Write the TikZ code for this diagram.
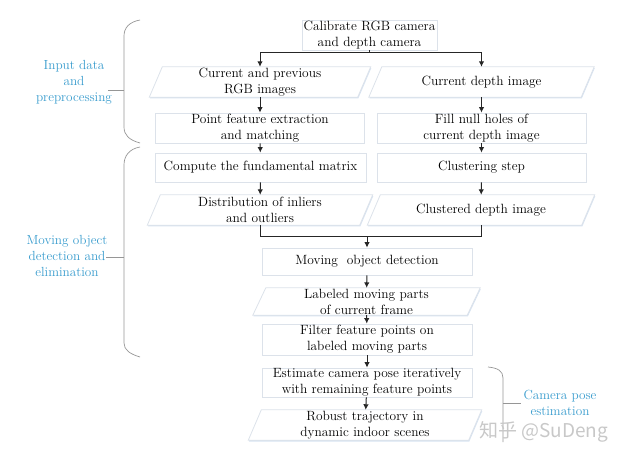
\documentclass[tikz,border=0pt]{standalone}
\usepackage{fontspec}
\newfontfamily\cjkfont{Noto Sans CJK SC}
\usetikzlibrary{arrows.meta,shadows}
\pgfdeclarelayer{background}
\pgfsetlayers{background,main}
\definecolor{boxline}{RGB}{220,226,234}
\definecolor{shadowc}{RGB}{205,220,238}
\definecolor{labelblue}{RGB}{55,155,205}
\definecolor{brace}{RGB}{150,150,150}
\definecolor{wm}{RGB}{200,200,200}
\begin{document}
\begin{tikzpicture}[x=1pt,y=-1pt,
  txt/.style={font=\fontsize{13.4}{16}\selectfont, align=center, inner sep=0pt},
  procbox/.style={txt, draw=boxline, fill=white, line width=0.8pt,
    drop shadow={shadow xshift=0.6pt, shadow yshift=-1.3pt, fill=shadowc, opacity=0.8}},
  parashape/.style={draw=boxline, fill=white, line width=0.8pt,
    drop shadow={shadow xshift=0.6pt, shadow yshift=-1.3pt, fill=shadowc, opacity=0.8}},
  conn/.style={line width=1pt, black!85},
  arr/.style={conn, -{Latex[length=5.5pt,width=5.5pt]}},
  bracket/.style={draw=brace, line width=0.7pt},
  grouplabel/.style={font=\fontsize{13.2}{16}\selectfont, text=labelblue, align=center, inner sep=0pt}
]
\useasboundingbox (0,0) rectangle (624,462);

% process boxes
\node[procbox, minimum width=135, minimum height=30] (cal) at (369.5,35) {Calibrate RGB camera\\and depth camera};
\node[procbox, minimum width=209, minimum height=30] (pfe) at (260,128) {Point feature extraction\\and matching};
\node[procbox, minimum width=209, minimum height=30] (fill) at (481.5,128) {Fill null holes of\\current depth image};
\node[procbox, minimum width=211, minimum height=29] (fund) at (260.5,167.5) {Compute the fundamental matrix};
\node[procbox, minimum width=209, minimum height=29] (clus) at (481.5,167.5) {Clustering step};
\node[procbox, minimum width=210, minimum height=27] (mod) at (367,261.5) {Moving\ \ object detection};
\node[procbox, minimum width=210, minimum height=31] (filt) at (367,339.5) {Filter feature points on\\labeled moving parts};
\node[procbox, minimum width=210, minimum height=29] (est) at (367,382.5) {Estimate camera pose iteratively\\with remaining feature points};

% parallelogram (data) nodes: text nodes, outlines drawn on background
\node[txt, minimum width=208, minimum height=30] (rgb) at (260,82) {Current and previous\\RGB images};
\node[txt, minimum width=212, minimum height=30] (dep) at (481.5,82) {Current depth image};
\node[txt, minimum width=212, minimum height=30] (dist) at (260,210) {Distribution of inliers\\and outliers};
\node[txt, minimum width=214, minimum height=30] (cdep) at (481,210) {Clustered depth image};
\node[txt, minimum width=214, minimum height=27] (lab) at (366.5,301.5) {Labeled moving parts\\of current frame};
\node[txt, minimum width=220, minimum height=30] (rob) at (365,425) {Robust trajectory in\\dynamic indoor scenes};

\begin{pgfonlayer}{background}
\foreach \n in {rgb,dep,dist,cdep,lab,rob}{
  \path[parashape] ([xshift=-6.5pt]\n.south west) -- ([xshift=6.5pt]\n.north west)
     -- ([xshift=6.5pt]\n.north east) -- ([xshift=-6.5pt]\n.south east) -- cycle;
}
\end{pgfonlayer}

% connectors
\coordinate (j1) at (369.5,53);
\coordinate (j2) at (367,237);
\draw[conn] (cal.south) -- (j1);
\draw[arr] (j1) -| (rgb.north);
\draw[arr] (j1) -| (dep.north);
\draw[arr] (rgb) -- (pfe);
\draw[arr] (dep) -- (fill);
\draw[arr] (pfe) -- (fund);
\draw[arr] (fill) -- (clus);
\draw[arr] (fund) -- (dist);
\draw[arr] (clus) -- (cdep);
\draw[conn] (dist.south) |- (j2);
\draw[conn] (cdep.south) |- (j2);
\draw[arr] (j2) -- (mod.north);
\draw[arr] (mod) -- (lab);
\draw[arr] (lab) -- (filt);
\draw[arr] (filt) -- (est);
\draw[arr] (est) -- (rob);

% brackets and group labels
\coordinate (t1) at (108,90);
\coordinate (t2) at (106,257);
\coordinate (t3) at (521,403);
\draw[bracket] (140,20) .. controls (129,22) and (124,28) .. (124,36) -- (124,127) .. controls (124,135) and (129,140) .. (140,143);
\draw[bracket] (124,90) -- (t1);
\draw[bracket] (140,147) .. controls (129,149) and (124,156) .. (124,165) -- (124,343) .. controls (124,350) and (130,354) .. (140,357);
\draw[bracket] (124,257) -- (t2);
\draw[bracket] (488,367) .. controls (498,368) and (503,371) .. (503,378) -- (503,442);
\draw[bracket] (503,403) -- (t3);

\node[grouplabel] (g1) at (74,82) {Input data\\and\\preprocessing};
\node[grouplabel] (g2) at (67,256) {Moving object\\detection and\\elimination};
\node[grouplabel] (g3) at (560,403) {Camera pose\\estimation};

% watermark
\node[font=\cjkfont\fontsize{19}{22}\selectfont, text=wm, anchor=west, inner sep=0pt] (wmk) at (479,432) {知乎 @SuDeng};
\end{tikzpicture}
\end{document}
